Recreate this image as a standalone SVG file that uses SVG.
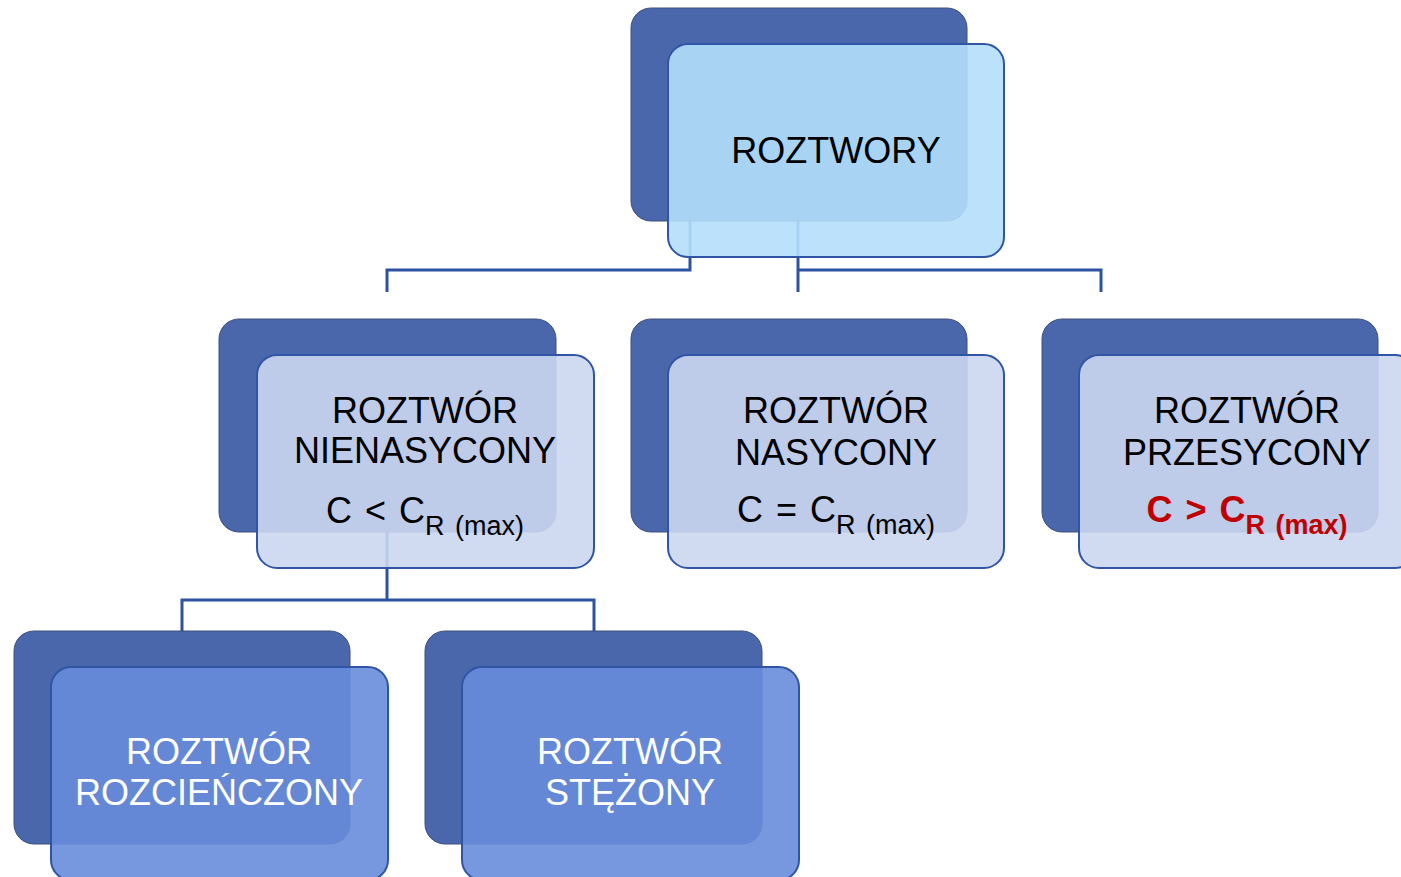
<svg xmlns="http://www.w3.org/2000/svg" width="1401" height="877" viewBox="0 0 1401 877">
  <style>
    .back { fill: #4a67ab; stroke: #3d4f7c; stroke-width: 1; }
    .front { stroke: #2f55a4; stroke-width: 2; }
    .lvl0 { fill: rgb(180,223,250); fill-opacity: 0.9; }
    .lvl1 { fill: rgb(203,214,240); fill-opacity: 0.9; }
    .lvl2 { fill: rgb(104,140,218); fill-opacity: 0.9; }
    .conn { fill: none; stroke: #2f52a0; stroke-width: 3; }
    text { font-family: "Liberation Sans", Arial, sans-serif; font-size: 36px; text-anchor: middle; fill: #000; }
    .light { fill: #ffffff; }
    .formula { word-spacing: 3px; }
    .sub { font-size: 27px; }
    .red { fill: #c00000; font-weight: bold; }
  </style>

  <!-- connectors sit beneath the translucent front cards -->
  <g id="connectors">
    <path class="conn" d="M690 221 V270 H387 V292"/>
    <path class="conn" d="M798 221 V292"/>
    <path class="conn" d="M798 270 H1101 V292"/>
    <path class="conn" d="M387 532 V600"/>
    <path class="conn" d="M182 631 V600 H594 V631"/>
  </g>

  <g id="node-roztwory">
    <rect class="back" x="631" y="8" width="336" height="213" rx="20"/>
    <rect class="front lvl0" x="668" y="44" width="336" height="213" rx="20"/>
    <text x="836" y="163">ROZTWORY</text>
  </g>

  <g id="node-nienasycony">
    <rect class="back" x="219" y="319" width="337" height="213" rx="20"/>
    <rect class="front lvl1" x="257" y="355" width="337" height="213" rx="20"/>
    <text x="425" y="423">ROZTWÓR</text>
    <text x="425" y="463">NIENASYCONY</text>
    <text class="formula" x="425" y="523">C &lt; C<tspan class="sub" dy="12">R (max)</tspan></text>
  </g>

  <g id="node-nasycony">
    <rect class="back" x="631" y="319" width="336" height="213" rx="20"/>
    <rect class="front lvl1" x="668" y="355" width="336" height="213" rx="20"/>
    <text x="836" y="423">ROZTWÓR</text>
    <text x="836" y="465">NASYCONY</text>
    <text class="formula" x="836" y="522">C = C<tspan class="sub" dy="12">R (max)</tspan></text>
  </g>

  <g id="node-przesycony">
    <rect class="back" x="1042" y="319" width="336" height="213" rx="20"/>
    <rect class="front lvl1" x="1079" y="355" width="336" height="213" rx="20"/>
    <text x="1247" y="423">ROZTWÓR</text>
    <text x="1247" y="465">PRZESYCONY</text>
    <text class="formula red" x="1247" y="522">C &gt; C<tspan class="sub" dy="12">R (max)</tspan></text>
  </g>

  <g id="node-rozcienczony">
    <rect class="back" x="14" y="631" width="336" height="213" rx="20"/>
    <rect class="front lvl2" x="51" y="667" width="337" height="213" rx="20"/>
    <text class="light" x="219" y="764">ROZTWÓR</text>
    <text class="light" x="219" y="805">ROZCIEŃCZONY</text>
  </g>

  <g id="node-stezony">
    <rect class="back" x="425" y="631" width="337" height="213" rx="20"/>
    <rect class="front lvl2" x="462" y="667" width="337" height="213" rx="20"/>
    <text class="light" x="630" y="764">ROZTWÓR</text>
    <text class="light" x="630" y="805">STĘŻONY</text>
  </g>
</svg>
